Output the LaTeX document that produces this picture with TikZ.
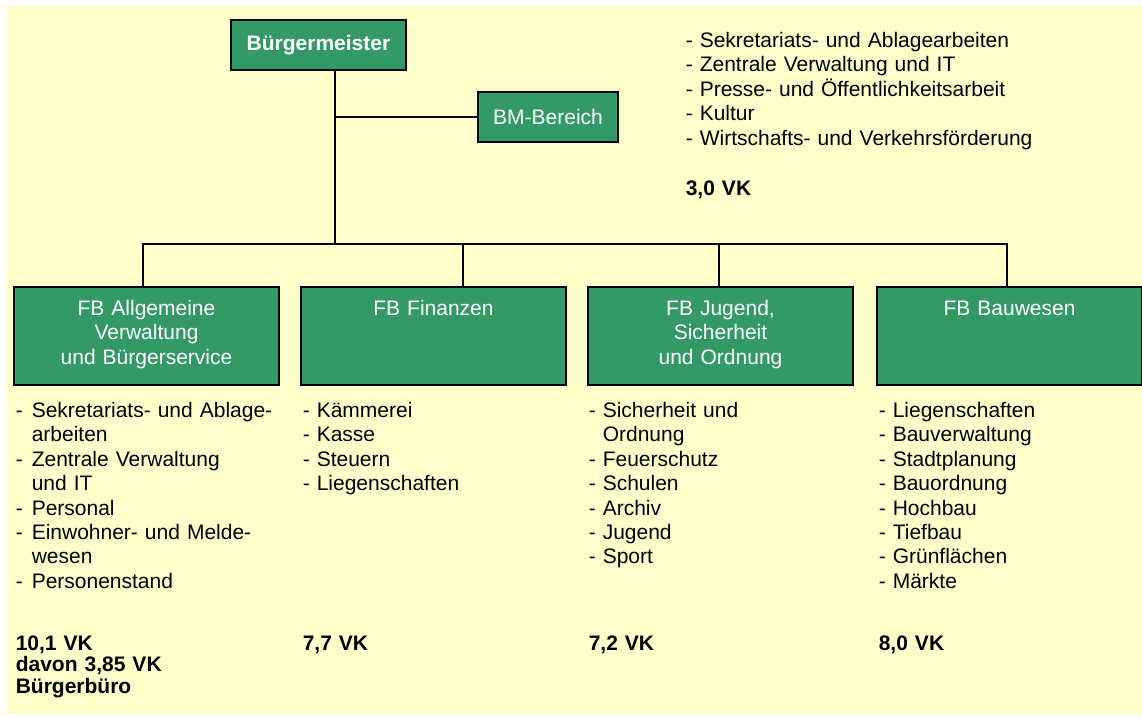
\documentclass[tikz,border=0pt]{standalone}
\usepackage{fontspec}
\setmainfont{Liberation Sans}

\definecolor{hgelb}{HTML}{FFFFCC}
\definecolor{fbgruen}{HTML}{339966}

\newcommand{\strich}[1]{\makebox[16pt][l]{-}#1}
\newcommand{\weiter}[1]{\hspace*{16pt}#1}

\begin{document}
\begin{tikzpicture}[x=1pt, y=-1pt, line width=1.6pt,
  font=\fontsize{21}{24.4}\selectfont,
  kasten/.style={draw=black, fill=fbgruen, inner sep=0pt},
  fbkasten/.style={kasten, minimum width=265pt, minimum height=98pt},
  titel/.style={text=white, inner sep=0pt, text width=265pt, align=center, anchor=base},
  liste/.style={inner sep=0pt, text width=262pt, align=left, anchor=base west},
  vk/.style={liste, font=\fontsize{21}{21.5}\selectfont\bfseries}]

\useasboundingbox (0,0) rectangle (1142,718);
\fill[hgelb] (6,6) rectangle (1142,714);

% Leitung
\node[kasten, minimum width=175pt, minimum height=50pt, text=white, font=\fontsize{21}{24}\selectfont\bfseries]
  (bm) at (318.5,45) {Bürgermeister};
\node[kasten, minimum width=140pt, minimum height=50pt, text=white]
  (bmb) at (548,117) {BM-Bereich};

% Fachbereiche
\node[fbkasten] (fba) at (146.5,336) {};
\node[fbkasten] (fbf) at (433.5,336) {};
\node[fbkasten] (fbj) at (720.5,336) {};
\node[fbkasten] (fbb) at (1009.5,336) {};

\node[titel] (fbat) at (146.5,315.5) {FB Allgemeine\\Verwaltung\\und Bürgerservice};
\node[titel] (fbft) at (433.5,315.5) {FB Finanzen};
\node[titel] (fbjt) at (720.5,315.5) {FB Jugend,\\Sicherheit\\und Ordnung};
\node[titel] (fbbt) at (1009.5,315.5) {FB Bauwesen};

% Linien
\coordinate (stamm) at (335,244);
\coordinate (busl) at (143,244);
\coordinate (busr) at (1007,244);
\coordinate (dfin) at (463,244);
\coordinate (djug) at (719,244);

\draw (bm.south -| stamm) -- (stamm);
\draw (bmb.west) -- (bmb.west -| stamm);
\draw (fba.north -| busl) -- (busl) -- (busr) -- (fbb.north -| busr);
\draw (dfin) -- (dfin |- fbf.north);
\draw (djug) -- (djug |- fbj.north);

% Aufgaben BM-Bereich
\node[liste, text width=400pt] (bmbl) at (685,47.5) {- Sekretariats- und Ablagearbeiten\\
  - Zentrale Verwaltung und IT\\
  - Presse- und Öffentlichkeitsarbeit\\
  - Kultur\\
  - Wirtschafts- und Verkehrsförderung};
\node[vk] (bmbvk) at (685,195.5) {3,0 VK};

% Aufgaben der Fachbereiche
\node[liste] (fbal) at (15,417.5) {\strich{Sekretariats- und Ablage-}\\
  \weiter{arbeiten}\\
  \strich{Zentrale Verwaltung}\\
  \weiter{und IT}\\
  \strich{Personal}\\
  \strich{Einwohner- und Melde-}\\
  \weiter{wesen}\\
  \strich{Personenstand}};
\node[liste] (fbfl) at (302,417.5) {- Kämmerei\\- Kasse\\- Steuern\\- Liegenschaften};
\node[liste] (fbjl) at (588,417.5) {- Sicherheit und\\
  \phantom{- }Ordnung\\
  - Feuerschutz\\
  - Schulen\\
  - Archiv\\
  - Jugend\\
  - Sport};
\node[liste] (fbbl) at (878,417.5) {- Liegenschaften\\- Bauverwaltung\\- Stadtplanung\\- Bauordnung\\- Hochbau\\- Tiefbau\\- Grünflächen\\- Märkte};

% Stellen
\node[vk] (fbavk) at (15,650) {10,1 VK\\davon 3,85 VK\\Bürgerbüro};
\node[vk] (fbfvk) at (302,650) {7,7 VK};
\node[vk] (fbjvk) at (588,650) {7,2 VK};
\node[vk] (fbbvk) at (878,650) {8,0 VK};
\end{tikzpicture}
\end{document}
